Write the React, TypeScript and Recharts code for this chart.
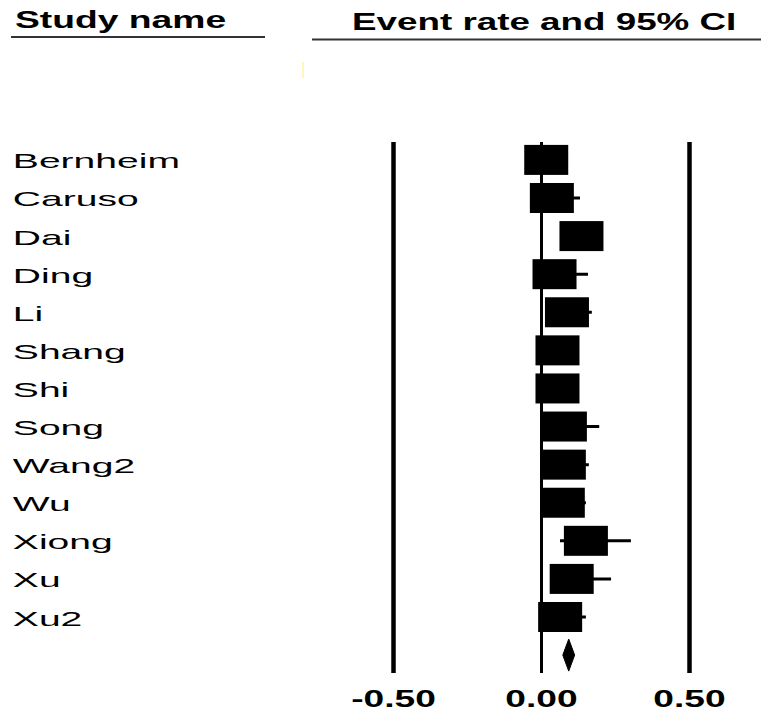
import React from 'react';
import { ScatterChart, Scatter, XAxis, YAxis, ReferenceLine, ErrorBar } from 'recharts';

const studies = ['Bernheim', 'Caruso', 'Dai', 'Ding', 'Li', 'Shang', 'Shi', 'Song', 'Wang2', 'Wu', 'Xiong', 'Xu', 'Xu2'];
const eventRate = [0.016, 0.035, 0.135, 0.044, 0.086, 0.054, 0.054, 0.079, 0.0755, 0.072, 0.150, 0.102, 0.063];
const lowerCI = [0.000, 0.005, 0.080, 0.010, 0.030, 0.020, 0.020, 0.030, 0.030, 0.030, 0.0625, 0.040, 0.020];
const upperCI = [0.070, 0.130, 0.190, 0.157, 0.170, 0.100, 0.100, 0.195, 0.160, 0.150, 0.302, 0.235, 0.150];
const summaryRate = 0.092;
const summaryLower = 0.072;
const summaryUpper = 0.112;
const xTicks = [-0.5, 0, 0.5];
const labelPosition = -1.786;

const FONT = '"Liberation Sans", Arial, Helvetica, sans-serif';

const studyRows = studies.map((name, i) => ({
  name,
  row: i,
  rate: eventRate[i],
  ci: [eventRate[i] - lowerCI[i], upperCI[i] - eventRate[i]],
}));

const labelRows = studies.map((name, i) => ({ name, row: i, rate: labelPosition }));

const summaryRow = studies.length;
const diamond = [
  { rate: summaryLower, row: summaryRow },
  { rate: summaryRate, row: summaryRow - 0.42 },
  { rate: summaryUpper, row: summaryRow },
  { rate: summaryRate, row: summaryRow + 0.42 },
  { rate: summaryLower, row: summaryRow },
];

const Box = (props: any) => {
  const { cx, cy } = props;
  if (cx == null || cy == null) return <g />;
  return <rect x={cx - 22} y={cy - 15} width={44} height={30} fill="#000" />;
};

const Label = (props: any) => {
  const { cx, cy, payload } = props;
  if (cx == null || cy == null) return <g />;
  return (
    <text
      transform={`translate(${cx}, ${cy + 8.5}) scale(1.86, 1)`}
      fontSize={21}
      fontFamily={FONT}
      fill="#000"
      textAnchor="start"
    >
      {payload.name}
    </text>
  );
};

const NoShape = () => <g />;

const XTick = (props: any) => {
  const { x, y, payload } = props;
  return (
    <text
      transform={`translate(${x}, ${y + 26}) scale(1.58, 1)`}
      fontSize={23.5}
      fontWeight="bold"
      fontFamily={FONT}
      fill="#000"
      textAnchor="middle"
    >
      {Number(payload.value).toFixed(2)}
    </text>
  );
};

export default function App() {
  return (
    <div style={{ position: 'absolute', left: 0, top: 0, width: 761, height: 717, background: '#fff' }}>
      <ScatterChart width={761} height={717} margin={{ top: 142, right: 12.3, bottom: 0, left: 8.7 }}>
        <XAxis
          type="number"
          dataKey="rate"
          domain={[-1.8, 0.7]}
          ticks={xTicks}
          interval={0}
          axisLine={false}
          tickLine={false}
          height={44}
          tick={<XTick />}
          allowDataOverflow
        />
        <YAxis type="number" dataKey="row" domain={[-0.47, 13.47]} reversed hide allowDataOverflow />
        <ReferenceLine x={-0.5} stroke="#000" strokeWidth={4.5} />
        <ReferenceLine x={0} stroke="#000" strokeWidth={3} />
        <ReferenceLine x={0.5} stroke="#000" strokeWidth={4.5} />
        <Scatter data={labelRows} isAnimationActive={false} shape={<Label />} fill="#000" />
        <Scatter data={studyRows} isAnimationActive={false} shape={<Box />} fill="#000">
          <ErrorBar dataKey="ci" direction="x" width={0} stroke="#000" strokeWidth={3} />
        </Scatter>
        <Scatter
          data={diamond}
          isAnimationActive={false}
          shape={<NoShape />}
          line={{ stroke: '#000', strokeWidth: 1, fill: '#000' }}
          lineType="joint"
          fill="#000"
        />
      </ScatterChart>
      <svg
        width={761}
        height={717}
        style={{ position: 'absolute', left: 0, top: 0, pointerEvents: 'none' }}
      >
        <text transform="translate(15, 28) scale(1.62, 1)" fontSize={23} fontWeight="bold" fontFamily={FONT} fill="#000">
          Study name
        </text>
        <line x1={11} x2={265} y1={37} y2={37} stroke="#333" strokeWidth={2} />
        <text transform="translate(352, 30) scale(1.6, 1)" fontSize={23} fontWeight="bold" fontFamily={FONT} fill="#000">
          Event rate and 95% CI
        </text>
        <line x1={312} x2={761} y1={39.5} y2={39.5} stroke="#333" strokeWidth={2} />
        <line x1={303} x2={303} y1={62} y2={78} stroke="#fff3a8" strokeWidth={1.5} />
      </svg>
    </div>
  );
}
